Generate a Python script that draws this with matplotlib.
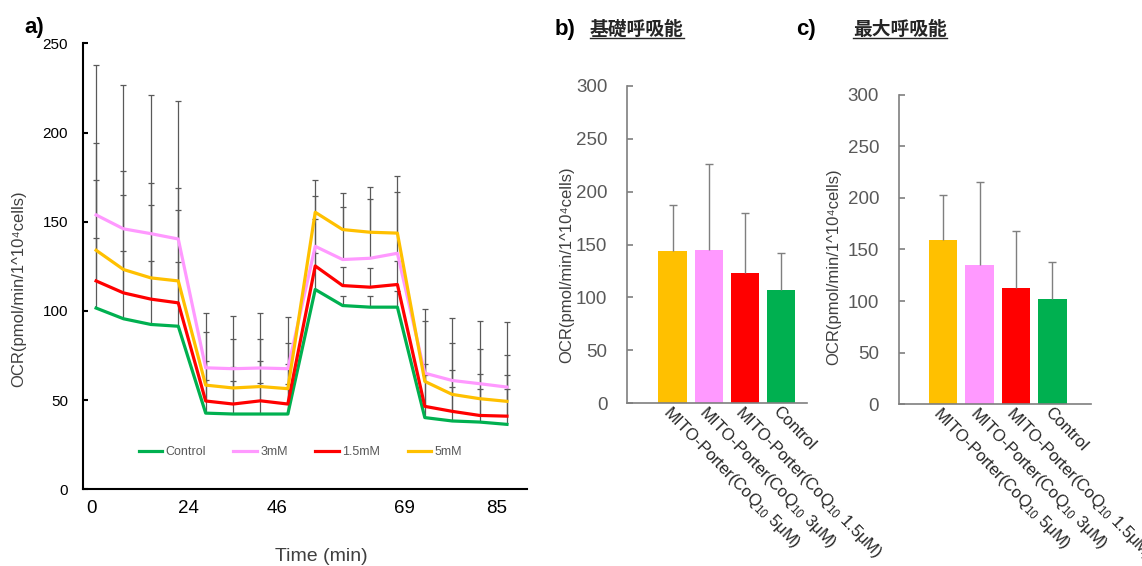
import numpy as np
import matplotlib
matplotlib.use('Agg')
import matplotlib.pyplot as plt
from matplotlib.lines import Line2D
from matplotlib import transforms

plt.rcParams['font.family'] = ['Liberation Sans', 'DejaVu Sans']
plt.rcParams['mathtext.fontset'] = 'custom'
plt.rcParams['mathtext.rm'] = 'Liberation Sans'
plt.rcParams['mathtext.it'] = 'Liberation Sans:italic'

# --- panel a: OCR time course (16 measurements) ---
series_names = ['Control', '3mM', '1.5mM', '5mM']
ocr_control = [101.6, 95.6, 92.4, 91.4, 42.7, 42.2, 42.2, 42.2, 112.0, 103.0, 102.1, 102.1, 40.2, 38.3, 37.7, 36.4]
ocr_3mM = [153.8, 146.0, 143.3, 140.3, 68.1, 67.6, 68.0, 67.6, 136.2, 128.8, 129.5, 132.3, 65.1, 61.0, 59.2, 57.3]
ocr_15mM = [116.8, 110.1, 106.6, 104.5, 49.5, 47.8, 49.6, 47.8, 125.2, 114.2, 113.3, 114.8, 46.5, 43.7, 41.4, 41.0]
ocr_5mM = [134.0, 123.2, 118.5, 116.8, 58.4, 56.8, 57.6, 56.4, 155.3, 145.6, 144.1, 143.6, 60.5, 53.2, 50.8, 49.3]

sd_control = [39.4, 38.0, 35.8, 35.9, 18.3, 18.4, 17.3, 17.0, 20.5, 5.6, 6.5, 9.3, 23.8, 19.0, 18.7, 20.0]
sd_3mM = [84.2, 80.8, 77.7, 77.1, 30.8, 29.4, 30.6, 29.0, 28.4, 29.3, 33.2, 34.2, 35.9, 35.3, 35.4, 36.4]
sd_15mM = [56.8, 54.9, 53.0, 52.3, 22.4, 20.7, 22.3, 22.6, 26.4, 10.3, 10.8, 13.4, 23.9, 22.9, 23.4, 22.8]
sd_5mM = [60.0, 55.4, 53.0, 52.2, 29.7, 27.6, 26.8, 25.7, 18.3, 20.4, 25.6, 31.8, 34.1, 28.8, 28.0, 25.9]

time_labels = ['0', '24', '46', '69', '85']
time_label_pos = [-0.18, 3.36, 6.62, 11.24, 14.62]

# --- panels b, c: bar charts ---
groups = ['MITO-Porter(CoQ$_{10}$ 5μM)', 'MITO-Porter(CoQ$_{10}$ 3μM)',
          'MITO-Porter(CoQ$_{10}$ 1.5μM)', 'Control']
basal = [144.0, 145.0, 123.5, 106.8]
basal_sd = [43.6, 80.8, 56.6, 34.8]
maximal = [158.8, 135.4, 112.9, 101.8]
maximal_sd = [43.7, 80.3, 55.0, 36.0]

line_colors = ['#00B050', '#FF99FF', '#FF0000', '#FFC000']
bar_colors = ['#FFC000', '#FF99FF', '#FF0000', '#00B050']
ylab = 'OCR(pmol/min/1^10⁴cells)'


# error bars only upward, no cap at the data point
def upper_errorbar(axis, xs, vals, sd, color, lw, cap):
    eb = axis.errorbar(xs, vals, yerr=[np.zeros(len(sd)), sd], fmt='none', ecolor=color,
                       elinewidth=lw, capsize=cap, capthick=lw, zorder=2)
    eb[1][0].set_visible(False)


fig = plt.figure(figsize=(11.42, 5.66), dpi=100)

ax = fig.add_axes([0.0724, 0.1355, 0.3888, 0.788])
x = np.arange(len(ocr_control))
data = [ocr_control, ocr_3mM, ocr_15mM, ocr_5mM]
sds = [sd_control, sd_3mM, sd_15mM, sd_5mM]
for vals, sd in zip(data, sds):
    upper_errorbar(ax, x, vals, sd, '#595959', 0.9, 2.2)
for vals, name, c in zip(data, series_names, line_colors):
    ax.plot(x, vals, color=c, lw=2.3, label=name, zorder=3)
ax.set_xlim(-0.49, 15.72)
ax.set_ylim(0, 250)
ax.set_yticks(range(0, 251, 50))
ax.set_xticks(time_label_pos)
ax.set_xticklabels(time_labels)
for s in ['top', 'right']:
    ax.spines[s].set_visible(False)
for s in ['left', 'bottom']:
    ax.spines[s].set_linewidth(1.5)
    ax.spines[s].set_color('black')
ax.tick_params(axis='y', direction='in', length=3.5, width=1.5, labelsize=11, pad=10.5, colors='black')
ax.tick_params(axis='x', length=0, labelsize=13.5, pad=8, colors='black')
ax.set_xlabel('Time (min)', fontsize=14, color='#404040', va='baseline')
ax.xaxis.set_label_coords(0.538, -0.161)
ax.set_ylabel(ylab, fontsize=12, color='#404040', va='center')
ax.yaxis.set_label_coords(-0.1446, 0.449)
ax.legend(loc='center', bbox_to_anchor=(0.49, 0.083), ncol=4, frameon=False, fontsize=9,
          handlelength=1.9, handletextpad=0.25, columnspacing=2.2, labelcolor='#595959')

fig.text(34 / 1142, 1 - 28 / 566, 'a)', fontsize=16, fontweight='bold', ha='center', va='center')

panels = [
    ([0.5488, 0.2876, 0.1581, 0.5606], basal, basal_sd, (-1.265, 3.72), -0.332, 0.4355, -17,
     'b)', 565, '基礎呼吸能', 590),
    ([0.7869, 0.2857, 0.1681, 0.5472], maximal, maximal_sd, (-1.22, 4.05), -0.3406, 0.443, -14,
     'c)', 806, '最大呼吸能', 853),
]
titles = []
for rect, vals, sd, xlim, lx, ly, dx, letter, letter_x, title, title_x in panels:
    bx = fig.add_axes(rect)
    pos = np.arange(len(groups))
    bx.bar(pos, vals, width=0.785, color=bar_colors, zorder=2)
    upper_errorbar(bx, pos, vals, sd, '#7F7F7F', 1.0, 3)
    bx.set_xlim(*xlim)
    bx.set_ylim(0, 300)
    bx.set_yticks(range(0, 301, 50))
    bx.set_xticks(pos)
    bx.set_xticklabels(groups, rotation=-46, ha='left', va='top', rotation_mode='anchor')
    off = transforms.ScaledTranslation(dx / 100, -7 / 100, fig.dpi_scale_trans)
    for lab in bx.get_xticklabels():
        lab.set_transform(lab.get_transform() + off)
    for s in ['top', 'right']:
        bx.spines[s].set_visible(False)
    for s in ['left', 'bottom']:
        bx.spines[s].set_linewidth(1.2)
        bx.spines[s].set_color('#7F7F7F')
    bx.tick_params(axis='y', direction='in', length=4.5, width=1.2, color='#7F7F7F',
                   labelsize=13.5, labelcolor='#595959', pad=14)
    bx.tick_params(axis='x', length=0, labelsize=12, labelcolor='#262626', pad=0)
    bx.set_ylabel(ylab, fontsize=12, color='#404040', va='center')
    bx.yaxis.set_label_coords(lx, ly)
    fig.text(letter_x / 1142, 1 - 29 / 566, letter, fontsize=16, fontweight='bold', ha='center', va='center')
    t = fig.text(title_x / 1142, 1 - 29 / 566, title, fontsize=13.5, fontweight='bold',
                 family=['Noto Sans CJK JP'], ha='left', va='center', color='#262626')
    titles.append(t)

# underline the Japanese titles
fig.canvas.draw()
r = fig.canvas.get_renderer()
for t in titles:
    bb = t.get_window_extent(r)
    yline = (bb.y0 + 1) / fig.bbox.height
    fig.add_artist(Line2D([bb.x0 / fig.bbox.width, bb.x1 / fig.bbox.width], [yline, yline],
                          color='#262626', lw=1.0, transform=fig.transFigure))

fig.savefig('out.png', dpi=100)
